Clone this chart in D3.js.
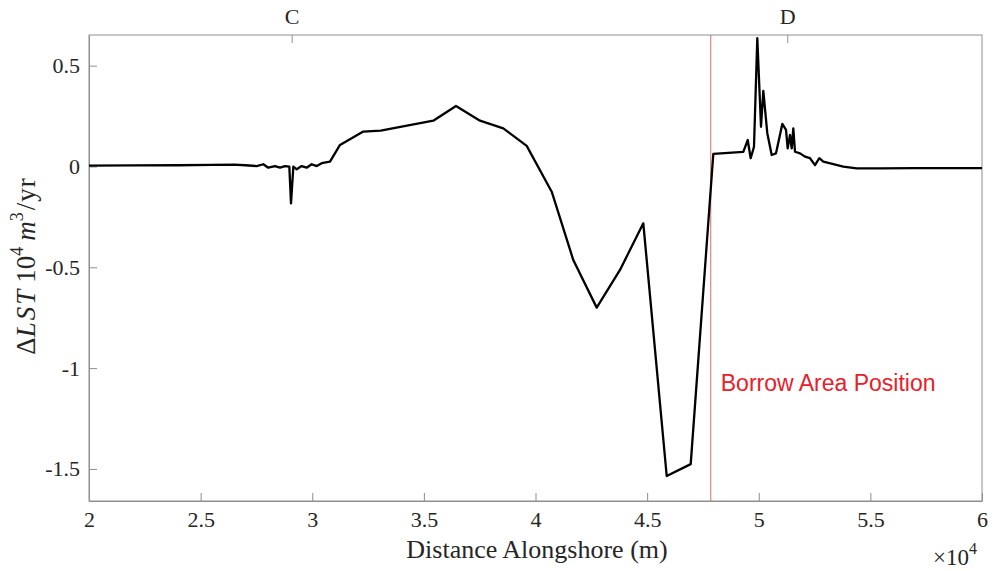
<!DOCTYPE html>
<html>
<head>
<meta charset="utf-8">
<script src="https://cdn.jsdelivr.net/npm/d3@7"></script>
<style>
  body { margin: 0; background: #fff; }
  svg { display: block; }
</style>
</head>
<body>
<svg id="chart" width="997" height="571"></svg>
<script>
// Change in longshore sediment transport along the coast (10^4 m^3/yr)
const distance = [
  20000, 22000, 24000, 25500, 26500, 27000, 27512, 27810, 28031, 28331,
  28555, 28779, 28973, 29048, 29153, 29302, 29526, 29750, 29974, 30199,
  30423, 30795, 31243, 32287, 33066, 35422, 36439, 37514, 38558, 39606,
  40726, 41693, 42741, 43785, 44829, 45877, 46952, 47964, 49308, 49505,
  49639, 49787, 49935, 50101, 50204, 50383, 50580, 50773, 51055, 51221,
  51296, 51400, 51476, 51548, 51624, 51848, 52072, 52296, 52520, 52713,
  52892, 53340, 53787, 54387, 55431, 57000, 60000
];
const deltaLST = [
  0.004, 0.005, 0.006, 0.008, 0.009, 0.006, 0.002, 0.011, -0.006, 0.002,
  -0.006, 0.002, -0.001, -0.183, -0.001, -0.014, 0.002, -0.006, 0.011, 0.002,
  0.016, 0.024, 0.107, 0.173, 0.178, 0.227, 0.300, 0.227, 0.189, 0.102,
  -0.125, -0.464, -0.700, -0.513, -0.282, -1.535, -1.476, 0.062, 0.072, 0.131,
  0.041, 0.098, 0.636, 0.197, 0.375, 0.165, 0.057, 0.065, 0.211, 0.181,
  0.090, 0.156, 0.090, 0.189, 0.073, 0.065, 0.049, 0.041, 0.007, 0.041,
  0.024, 0.012, -0.001, -0.009, -0.009, -0.008, -0.008
];

const xTickValues = [20000, 25000, 30000, 35000, 40000, 45000, 50000, 55000, 60000];
const yTickValues = [-1.5, -1, -0.5, 0, 0.5];
const sectionPositions = [29100, 51300];
const sectionLabels = ["C", "D"];
const borrowAreaX = 47850;
const borrowAreaLabel = "Borrow Area Position";

const svg = d3.select("#chart");
const margin = { left: 89, right: 15, top: 35, bottom: 70 };
const W = 997, H = 571;
const axisColor = "#8f8f8f";
const textColor = "#262626";
const serif = "'Liberation Serif', 'Times New Roman', serif";

const x = d3.scaleLinear().domain([20000, 60000]).range([margin.left, W - margin.right]);
const y = d3.scaleLinear().domain([-1.659, 0.652]).range([H - margin.bottom, margin.top]);

const fmt = v => String(v).replace("\u2212", "-");

// bottom axis, ticks pointing inward
const gx = svg.append("g")
  .attr("transform", `translate(0,${H - margin.bottom})`)
  .call(d3.axisBottom(x).tickValues(xTickValues).tickSizeInner(-8).tickSizeOuter(0)
    .tickPadding(10).tickFormat(d => fmt(d / 10000)));

// left axis
const gy = svg.append("g")
  .attr("transform", `translate(${margin.left},0)`)
  .call(d3.axisLeft(y).tickValues(yTickValues).tickSizeInner(-8).tickSizeOuter(0)
    .tickPadding(9).tickFormat(d => fmt(d)));

[gx, gy].forEach(g => {
  g.selectAll("path.domain").attr("stroke", axisColor);
  g.selectAll(".tick line").attr("stroke", axisColor);
  g.selectAll(".tick text").attr("fill", textColor)
    .style("font-family", serif).style("font-size", "22px");
});

// frame on top and right
svg.append("rect")
  .attr("x", x.range()[0]).attr("y", margin.top)
  .attr("width", x.range()[1] - x.range()[0])
  .attr("height", H - margin.bottom - margin.top)
  .attr("fill", "none").attr("stroke", axisColor).attr("stroke-width", 1);

// section markers on the top edge
const sectionG = svg.append("g");
sectionG.selectAll("line").data(sectionPositions).join("line")
  .attr("x1", d => x(d)).attr("x2", d => x(d))
  .attr("y1", margin.top).attr("y2", margin.top + 8)
  .attr("stroke", axisColor);
sectionG.selectAll("text").data(sectionPositions).join("text")
  .attr("x", d => x(d)).attr("y", 24)
  .attr("text-anchor", "middle")
  .attr("fill", textColor)
  .style("font-family", serif).style("font-size", "22px")
  .text((d, i) => sectionLabels[i]);

// borrow area marker
svg.append("line")
  .attr("x1", x(borrowAreaX)).attr("x2", x(borrowAreaX))
  .attr("y1", margin.top).attr("y2", H - margin.bottom)
  .attr("stroke", "#e06a6a").attr("stroke-width", 1);

svg.append("text")
  .attr("x", x(borrowAreaX) + 10).attr("y", 391)
  .attr("fill", "#e8202a")
  .style("font-family", "'Liberation Sans', Arial, sans-serif").style("font-size", "23px")
  .text(borrowAreaLabel);

// transport curve
const pts = distance.map((d, i) => [d, deltaLST[i]]);
svg.append("path")
  .datum(pts)
  .attr("fill", "none")
  .attr("stroke", "#000")
  .attr("stroke-width", 2.3)
  .attr("stroke-linejoin", "round")
  .attr("d", d3.line().x(d => x(d[0])).y(d => y(d[1])));

// x label and exponent
svg.append("text")
  .attr("x", 537).attr("y", 558)
  .attr("text-anchor", "middle").attr("fill", textColor)
  .style("font-family", serif).style("font-size", "26px")
  .text("Distance Alongshore (m)");

const expo = svg.append("text")
  .attr("x", 933).attr("y", 565).attr("fill", textColor)
  .style("font-family", serif).style("font-size", "23px");
expo.append("tspan").text("\u00d710");
expo.append("tspan").attr("dy", -11).style("font-size", "16px").text("4");

// y label: ΔLST 10^4 m^3/yr (math-style spacing)
const yl = svg.append("text")
  .attr("transform", "translate(35,266) rotate(-90)")
  .attr("text-anchor", "middle").attr("fill", textColor)
  .style("font-family", serif).style("font-size", "27px");
yl.append("tspan").text("\u0394");
yl.append("tspan").style("font-style", "italic").style("letter-spacing", "2px").text("LST");
yl.append("tspan").attr("dx", 5).text("10");
yl.append("tspan").attr("dy", -12).style("font-size", "18px").text("4");
yl.append("tspan").attr("dy", 12).attr("dx", 6).style("font-style", "italic").text("m");
yl.append("tspan").attr("dy", -12).style("font-size", "18px").text("3");
yl.append("tspan").attr("dy", 12).attr("dx", 2).style("letter-spacing", "1px").text("/yr");
</script>
</body>
</html>
